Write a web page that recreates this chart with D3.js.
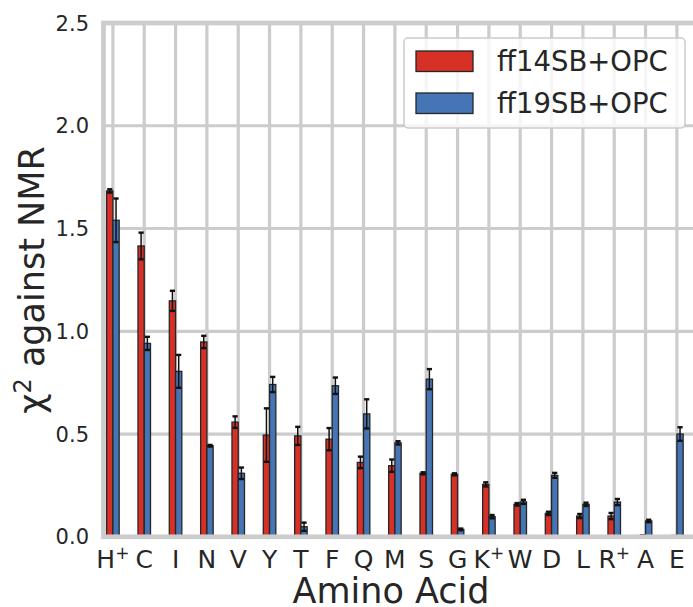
<!DOCTYPE html>
<html>
<head>
<meta charset="utf-8">
<script src="https://cdn.jsdelivr.net/npm/d3@7"></script>
<style>
  body { margin: 0; background: #fff; }
  svg { display: block; font-family: "DejaVu Sans", sans-serif; }
</style>
</head>
<body>
<div id="chart"></div>
<script>
// amino acids, "+" marks a charged residue (drawn as superscript)
const aminoAcids = ["H+", "C", "I", "N", "V", "Y", "T", "F", "Q", "M", "S", "G", "K+", "W", "D", "L", "R+", "A", "E"];

// chi^2 against NMR, mean and error per force field
const ff14 = [1.683, 1.415, 1.148, 0.948, 0.558, 0.495, 0.491, 0.475, 0.362, 0.346, 0.309, 0.304, 0.255, 0.158, 0.114, 0.101, 0.101, 0.005, 0.003];
const ff14Err = [0.008, 0.065, 0.049, 0.030, 0.028, 0.130, 0.044, 0.054, 0.028, 0.030, 0.005, 0.005, 0.010, 0.006, 0.008, 0.010, 0.015, 0.002, 0.001];
const ff19 = [1.540, 0.941, 0.805, 0.443, 0.309, 0.741, 0.049, 0.735, 0.598, 0.457, 0.767, 0.036, 0.098, 0.170, 0.299, 0.158, 0.169, 0.077, 0.500];
const ff19Err = [0.106, 0.032, 0.080, 0.004, 0.028, 0.037, 0.020, 0.040, 0.071, 0.008, 0.049, 0.004, 0.008, 0.010, 0.012, 0.008, 0.015, 0.006, 0.033];

const yTicks = [0, 0.5, 1.0, 1.5, 2.0, 2.5];

const series = [
    { name: "ff14SB+OPC", color: "#d73027", values: ff14, errors: ff14Err, offset: -0.1 },
    { name: "ff19SB+OPC", color: "#4575b4", values: ff19, errors: ff19Err, offset: 0.1 }
];

const width = 693, height = 607;
const plot = { left: 103.5, right: 695.7, top: 23, bottom: 536.8 };
const barWidth = 0.2;
const gridColor = "#cccccc";

const svg = d3.select("#chart").append("svg")
    .attr("width", width)
    .attr("height", height);

svg.append("rect").attr("width", width).attr("height", height).attr("fill", "#fff");

const x = d3.scaleLinear().domain([-0.3, 18.6]).range([plot.left, plot.right]);
const y = d3.scaleLinear().domain([0, 2.5]).range([plot.bottom, plot.top]);

// grid
const grid = svg.append("g");
grid.selectAll(".hgrid")
    .data(yTicks)
    .join("line")
    .attr("x1", plot.left).attr("x2", plot.right)
    .attr("y1", d => y(d)).attr("y2", d => y(d))
    .attr("stroke", gridColor).attr("stroke-width", 3.2);

grid.selectAll(".vgrid")
    .data(aminoAcids)
    .join("line")
    .attr("x1", (d, i) => x(i)).attr("x2", (d, i) => x(i))
    .attr("y1", plot.top).attr("y2", plot.bottom)
    .attr("stroke", gridColor).attr("stroke-width", 3.2);

// bars + error bars
series.forEach(s => {
    const g = svg.append("g");
    const rows = s.values.map((v, i) => ({ i, v, e: s.errors[i] }));

    g.selectAll("rect")
        .data(rows)
        .join("rect")
        .attr("x", d => x(d.i + s.offset - barWidth / 2))
        .attr("y", d => y(d.v))
        .attr("width", d => x(d.i + barWidth) - x(d.i))
        .attr("height", d => y(0) - y(d.v))
        .attr("fill", s.color)
        .attr("stroke", "#262626")
        .attr("stroke-width", 1.3);

    const eb = g.selectAll(".err")
        .data(rows)
        .join("g")
        .attr("transform", d => `translate(${x(d.i + s.offset)},0)`);

    eb.append("line")
        .attr("y1", d => y(d.v - d.e)).attr("y2", d => y(d.v + d.e))
        .attr("stroke", "#111").attr("stroke-width", 1.5);

    eb.selectAll(".cap")
        .data(d => [d.v - d.e, d.v + d.e])
        .join("line")
        .attr("x1", -2.6).attr("x2", 2.6)
        .attr("y1", d => y(d)).attr("y2", d => y(d))
        .attr("stroke", "#111").attr("stroke-width", 2.4);
});

// frame
svg.append("rect")
    .attr("x", plot.left).attr("y", plot.top)
    .attr("width", plot.right - plot.left).attr("height", plot.bottom - plot.top)
    .attr("fill", "none").attr("stroke", gridColor).attr("stroke-width", 4.7);

// y tick labels
svg.append("g")
    .selectAll("text")
    .data(yTicks)
    .join("text")
    .attr("x", 89)
    .attr("y", d => y(d) + 7.6)
    .attr("text-anchor", "end")
    .attr("font-size", 21)
    .attr("fill", "#262626")
    .text(d => d.toFixed(1));

// x tick labels
const xt = svg.append("g")
    .selectAll("text")
    .data(aminoAcids)
    .join("text")
    .attr("x", (d, i) => x(i))
    .attr("y", 568.3)
    .attr("text-anchor", "middle")
    .attr("font-size", 25)
    .attr("fill", "#262626");

xt.append("tspan").text(d => d.replace("+", ""));
xt.filter(d => d.endsWith("+"))
    .append("tspan")
    .attr("dy", -9)
    .attr("font-size", 17)
    .text("+");

// axis titles
svg.append("text")
    .attr("x", 391)
    .attr("y", 603)
    .attr("text-anchor", "middle")
    .attr("font-size", 35)
    .attr("fill", "#262626")
    .text("Amino Acid");

const yLabel = svg.append("text")
    .attr("transform", "translate(43.5,280) rotate(-90)")
    .attr("text-anchor", "middle")
    .attr("font-size", 35)
    .attr("fill", "#262626");
yLabel.append("tspan").text("χ");
yLabel.append("tspan").attr("dy", -13).attr("font-size", 24).text("2");
yLabel.append("tspan").attr("dy", 13).text(" against NMR");

// legend
const legend = svg.append("g");
legend.append("rect")
    .attr("x", 404).attr("y", 38)
    .attr("width", 281).attr("height", 90)
    .attr("rx", 4)
    .attr("fill", "#fff").attr("fill-opacity", 0.8)
    .attr("stroke", gridColor).attr("stroke-width", 1.5);

const items = legend.selectAll(".item")
    .data(series)
    .join("g")
    .attr("transform", (d, i) => `translate(416,${51 + i * 42})`);

items.append("rect")
    .attr("width", 57).attr("height", 20.5)
    .attr("fill", d => d.color)
    .attr("stroke", "#262626").attr("stroke-width", 1.3);

items.append("text")
    .attr("x", 81)
    .attr("y", 20)
    .attr("font-size", 27.5)
    .attr("fill", "#262626")
    .text(d => d.name);
</script>
</body>
</html>
